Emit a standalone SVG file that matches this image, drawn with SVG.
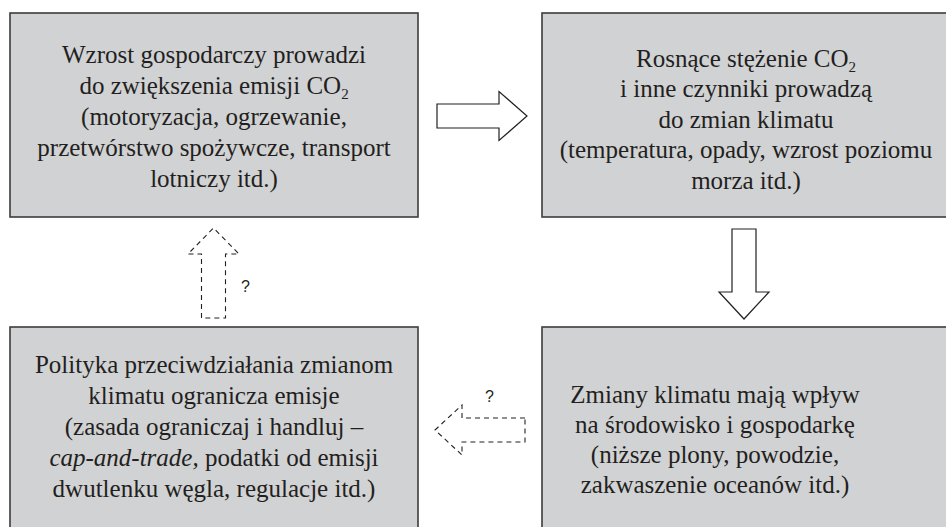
<svg xmlns="http://www.w3.org/2000/svg" width="946" height="527" viewBox="0 0 946 527">
<style>
.box{fill:#d1d2d4;stroke:#3c3c3c;stroke-width:1.6}
.t{font-family:"Liberation Serif","Times New Roman",serif;font-size:25px;fill:#231f20;text-anchor:middle}
.sub{font-size:15px}
.solid{fill:#fff;stroke:#231f20;stroke-width:1.2}
.dash{fill:none;stroke:#231f20;stroke-width:1.1;stroke-dasharray:5,4}
.q{font-family:"Liberation Sans",Arial,sans-serif;font-size:16px;fill:#231f20}
</style>
<rect width="946" height="527" fill="#fff"/>
<g id="node1">
<rect class="box" x="10" y="13" width="408" height="204"/>
<text class="t" x="214" y="63">Wzrost gospodarczy prowadzi</text>
<text class="t" x="214" y="94">do zwiększenia emisji CO<tspan class="sub" dy="5">2</tspan></text>
<text class="t" x="214" y="125">(motoryzacja, ogrzewanie,</text>
<text class="t" x="214" y="156">przetwórstwo spożywcze, transport</text>
<text class="t" x="214" y="187">lotniczy itd.)</text>
</g>
<g id="node2">
<rect class="box" x="542" y="13" width="410" height="204"/>
<text class="t" x="746" y="67">Rosnące stężenie CO<tspan class="sub" dy="5">2</tspan></text>
<text class="t" x="746" y="97">i inne czynniki prowadzą</text>
<text class="t" x="746" y="128">do zmian klimatu</text>
<text class="t" x="746" y="158">(temperatura, opady, wzrost poziomu</text>
<text class="t" x="746" y="189">morza itd.)</text>
</g>
<g id="node3">
<rect class="box" x="10" y="327" width="408" height="210"/>
<text class="t" x="214" y="373">Polityka przeciwdziałania zmianom</text>
<text class="t" x="214" y="404">klimatu ogranicza emisje</text>
<text class="t" x="214" y="435">(zasada ograniczaj i handluj –</text>
<text class="t" x="214" y="466"><tspan font-style="italic">cap-and-trade,</tspan> podatki od emisji</text>
<text class="t" x="214" y="497">dwutlenku węgla, regulacje itd.)</text>
</g>
<g id="node4">
<rect class="box" x="542" y="327" width="410" height="210"/>
<text class="t" x="715" y="403">Zmiany klimatu mają wpływ</text>
<text class="t" x="715" y="433">na środowisko i gospodarkę</text>
<text class="t" x="715" y="463">(niższe plony, powodzie,</text>
<text class="t" x="715" y="493">zakwaszenie oceanów itd.)</text>
</g>
<g id="connectors">
<polygon class="solid" points="437,104 499,104 499,91.5 527,116 499,140.5 499,128 437,128"/>
<polygon class="solid" points="732,229 756,229 756,292 769,292 744,319 719,292 732,292"/>
<polygon class="dash" points="201.5,318 201.5,254 188,254 213.5,228 239,254 225.5,254 225.5,318"/>
<polygon class="dash" points="525,418 462,418 462,405 435,430 462,455 462,442 525,442"/>
<text class="q" x="241" y="292">?</text>
<text class="q" x="485" y="402">?</text>
</g>
</svg>
